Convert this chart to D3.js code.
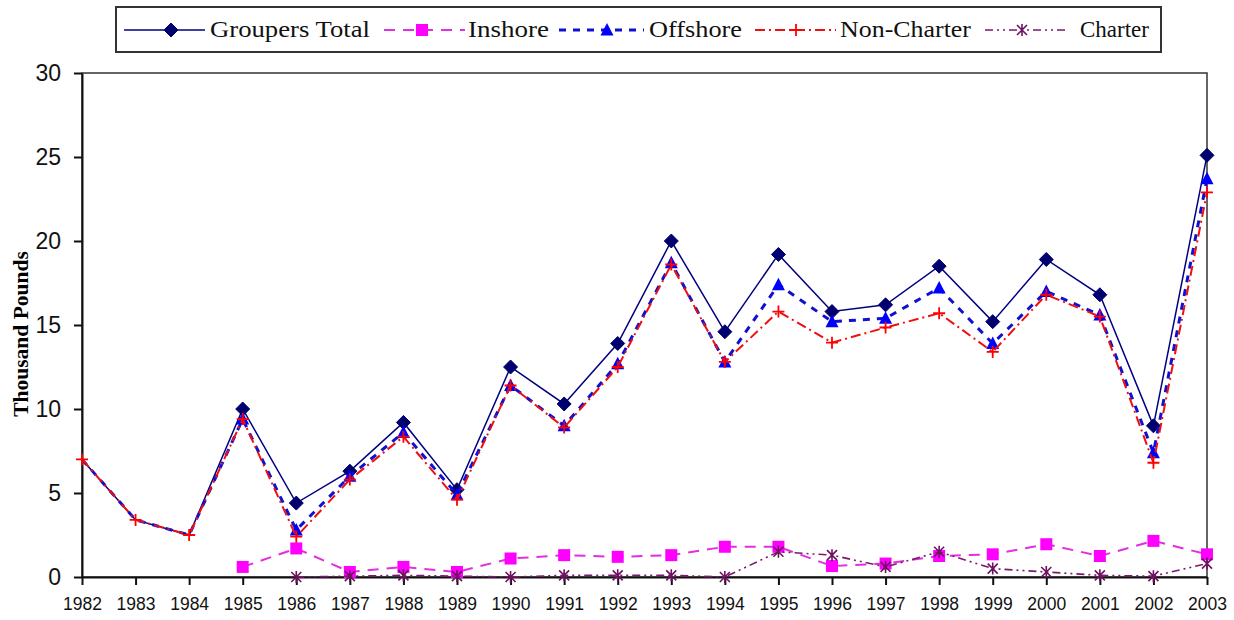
<!DOCTYPE html>
<html>
<head>
<meta charset="utf-8">
<script src="https://cdnjs.cloudflare.com/ajax/libs/d3/7.8.5/d3.min.js"></script>
<style>
  html, body { margin: 0; padding: 0; background: #fff; }
  svg { display: block; }
</style>
</head>
<body>
<svg id="chart" width="1234" height="620"></svg>
<script>
// Grouper landings, thousand pounds
const years = [1982, 1983, 1984, 1985, 1986, 1987, 1988, 1989, 1990, 1991, 1992,
               1993, 1994, 1995, 1996, 1997, 1998, 1999, 2000, 2001, 2002, 2003];
const groupersTotal = [7.0, 3.4, 2.5, 10.0, 4.4, 6.3, 9.2, 5.2, 12.5, 10.3, 13.9,
                       20.0, 14.6, 19.2, 15.8, 16.2, 18.5, 15.2, 18.9, 16.8, 9.0, 25.1];
const inshore = [null, null, null, 0.6, 1.7, 0.3, 0.6, 0.3, 1.1, 1.3, 1.2,
                 1.3, 1.8, 1.8, 0.65, 0.8, 1.25, 1.35, 1.95, 1.25, 2.15, 1.35];
const offshore = [7.0, 3.4, 2.5, 9.4, 2.8, 6.0, 8.6, 4.9, 11.4, 9.0, 12.7,
                  18.7, 12.8, 17.4, 15.2, 15.4, 17.2, 13.9, 17.0, 15.6, 7.4, 23.7];
const nonCharter = [7.0, 3.4, 2.5, 9.4, 2.4, 5.8, 8.35, 4.6, 11.4, 8.9, 12.5,
                    18.6, 12.8, 15.8, 13.95, 14.85, 15.7, 13.4, 16.8, 15.5, 6.8, 22.9];
const charter = [null, null, null, null, 0, 0.05, 0.1, 0.05, 0, 0.1, 0.1,
                 0.1, 0, 1.5, 1.3, 0.6, 1.5, 0.5, 0.3, 0.1, 0.05, 0.8];
const yTicks = [0, 5, 10, 15, 20, 25, 30];
const seriesNames = ["Groupers Total", "Inshore", "Offshore", "Non-Charter", "Charter"];
const yTitle = "Thousand Pounds";
// years before the sub-series start carry no marker on the summed series
const unmarkedYears = [1982, 1983, 1984];

const svg = d3.select("#chart");
const plot = { left: 82, right: 1207, top: 73, bottom: 577 };

const x = d3.scaleLinear().domain([years[0], years[years.length - 1]]).range([plot.left, plot.right]);
const y = d3.scaleLinear().domain([0, 30]).range([plot.bottom, plot.top]);

// marker shapes
const shapes = {
  diamond: (g, c) => g.append("path").attr("d", "M0,-7L7,0L0,7L-7,0Z").attr("fill", c).attr("stroke", c),
  square: (g, c) => g.append("rect").attr("x", -6).attr("y", -6).attr("width", 12).attr("height", 12).attr("fill", c),
  triangle: (g, c) => g.append("path").attr("d", "M0,-7L6.5,5.5L-6.5,5.5Z").attr("fill", c),
  plus: (g, c) => g.append("path").attr("d", "M-6,0H6M0,-6V6").attr("stroke", c).attr("stroke-width", 1.8).attr("fill", "none"),
  star: (g, c) => g.append("path").attr("d", "M-5,-5L5,5M5,-5L-5,5M0,-6V6").attr("stroke", c).attr("stroke-width", 1.6).attr("fill", "none")
};

const series = [
  { name: seriesNames[0], values: groupersTotal, color: "#000080", marker: "diamond", mcolor: "#00006e", width: 1.5, dash: null, skipMarks: true },
  { name: seriesNames[1], values: inshore, color: "#e030e0", marker: "square", mcolor: "#ff00ff", width: 2, dash: "11,8", skipMarks: false },
  { name: seriesNames[2], values: offshore, color: "#1010d0", marker: "triangle", mcolor: "#0000ff", width: 3, dash: "7,7", skipMarks: true },
  { name: seriesNames[3], values: nonCharter, color: "#ee1010", marker: "plus", mcolor: "#ff0000", width: 2, dash: "10,4,2,4", skipMarks: false },
  { name: seriesNames[4], values: charter, color: "#7a1a6a", marker: "star", mcolor: "#701060", width: 1.6, dash: "8,4,2,4,2,4", skipMarks: false }
];

// plot area frame
svg.append("rect")
  .attr("x", plot.left).attr("y", plot.top)
  .attr("width", plot.right - plot.left).attr("height", plot.bottom - plot.top)
  .attr("fill", "none").attr("stroke", "#333").attr("stroke-width", 1.5);

// axes
const yAxis = svg.append("g")
  .attr("transform", `translate(${plot.left},0)`)
  .call(d3.axisLeft(y).tickValues(yTicks).tickSize(8).tickSizeOuter(0).tickPadding(13));
yAxis.selectAll("text").attr("font-family", "Liberation Sans, Arial, sans-serif").attr("font-size", 23).attr("fill", "#111");

const xAxis = svg.append("g")
  .attr("transform", `translate(0,${plot.bottom})`)
  .call(d3.axisBottom(x).tickValues(years).tickFormat(d3.format("d")).tickSize(8).tickSizeOuter(0).tickPadding(13));
xAxis.selectAll("text").attr("font-family", "Liberation Sans, Arial, sans-serif").attr("font-size", 17.5).attr("fill", "#111");

[yAxis, xAxis].forEach(a => {
  a.select(".domain").attr("stroke", "#111").attr("stroke-width", 2);
  a.selectAll(".tick line").attr("stroke", "#111").attr("stroke-width", 2);
});

// y axis title
svg.append("text")
  .attr("transform", `translate(28,334) rotate(-90)`)
  .attr("text-anchor", "middle")
  .attr("font-family", "Liberation Serif, Times New Roman, serif")
  .attr("font-weight", "bold").attr("font-size", 21.5)
  .text(yTitle);

// series lines and markers
const line = d3.line()
  .defined(d => d.v != null)
  .x(d => x(d.year)).y(d => y(d.v));

series.forEach(s => {
  const pts = years.map((yr, i) => ({ year: yr, v: s.values[i] }));
  svg.append("path")
    .datum(pts)
    .attr("d", line)
    .attr("fill", "none")
    .attr("stroke", s.color)
    .attr("stroke-width", s.width)
    .attr("stroke-dasharray", s.dash);
  pts.filter(p => p.v != null && !(s.skipMarks && unmarkedYears.includes(p.year)))
    .forEach(p => {
      const g = svg.append("g").attr("transform", `translate(${x(p.year)},${y(p.v)})`);
      shapes[s.marker](g, s.mcolor);
    });
});

// legend
const legend = svg.append("g");
legend.append("rect")
  .attr("x", 116).attr("y", 7).attr("width", 1045).attr("height", 45)
  .attr("fill", "#fff").attr("stroke", "#333").attr("stroke-width", 2);

const legendItems = [
  { lx0: 124, lx1: 205, mx: 171, tx: 210, tw: 160 },
  { lx0: 384, lx1: 465, mx: 422, tx: 468, tw: 81 },
  { lx0: 559, lx1: 644, mx: 607, tx: 649, tw: 93 },
  { lx0: 755, lx1: 836, mx: 796, tx: 840, tw: 131 },
  { lx0: 985, lx1: 1069, mx: 1022, tx: 1080, tw: 69 }
];
series.forEach((s, i) => {
  const it = legendItems[i];
  legend.append("line")
    .attr("x1", it.lx0).attr("x2", it.lx1).attr("y1", 30).attr("y2", 30)
    .attr("stroke", s.color).attr("stroke-width", s.width)
    .attr("stroke-dasharray", s.dash);
  const g = legend.append("g").attr("transform", `translate(${it.mx},30)`);
  shapes[s.marker](g, s.mcolor);
  legend.append("text")
    .attr("x", it.tx).attr("y", 37)
    .attr("font-family", "Liberation Serif, Times New Roman, serif")
    .attr("font-size", 23)
    .attr("textLength", it.tw).attr("lengthAdjust", "spacingAndGlyphs")
    .attr("fill", "#111")
    .text(s.name);
});
</script>
</body>
</html>
